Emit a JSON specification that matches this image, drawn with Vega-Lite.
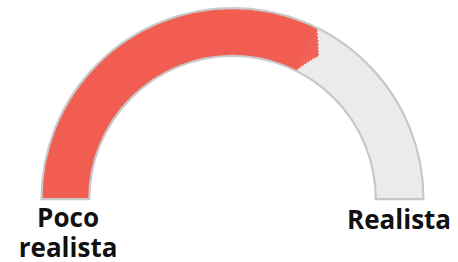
{
  "$schema": "https://vega.github.io/schema/vega-lite/v6.json",
  "width": 458,
  "height": 262,
  "padding": 0,
  "autosize": {"type": "fit", "contains": "padding"},
  "config": {"view": {"stroke": null}},
  "datasets": {
    "gauge": [
      {"part": "track", "f0": 0, "f1": 1, "r0": 0.75, "r1": 1},
      {"part": "value", "f0": 0, "f1": 0.6455, "r0": 0.75, "r1": 1},
      {"part": "tip", "f0": 0.645, "f1": 0.6485, "r0": 0.758, "r1": 0.992},
      {"part": "tip", "f0": 0.6483, "f1": 0.6517, "r0": 0.773, "r1": 0.976},
      {"part": "tip", "f0": 0.6515, "f1": 0.655, "r0": 0.789, "r1": 0.961},
      {"part": "tip", "f0": 0.6548, "f1": 0.6582, "r0": 0.804, "r1": 0.945},
      {"part": "tip", "f0": 0.658, "f1": 0.6615, "r0": 0.820, "r1": 0.929},
      {"part": "tip", "f0": 0.6613, "f1": 0.6647, "r0": 0.835, "r1": 0.913},
      {"part": "tip", "f0": 0.6645, "f1": 0.668, "r0": 0.851, "r1": 0.898},
      {"part": "tip", "f0": 0.6678, "f1": 0.671, "r0": 0.864, "r1": 0.884}
    ],
    "labels": [
      {"label": "Poco\nrealista", "u": -0.861, "v": -0.149},
      {"label": "Realista", "u": 0.872, "v": -0.16}
    ]
  },
  "layer": [
    {
      "data": {"name": "gauge"},
      "transform": [{"filter": "datum.part === 'track'"}],
      "mark": {"type": "arc", "fill": "#ebebeb"},
      "encoding": {
        "x": {"datum": 0, "type": "quantitative", "scale": {"domain": [-1.2173, 1.1806], "nice": false, "zero": false}, "axis": null},
        "y": {"datum": 0, "type": "quantitative", "scale": {"domain": [-0.3168, 1.055], "nice": false, "zero": false}, "axis": null},
        "theta": {"field": "f0", "type": "quantitative", "stack": null, "scale": {"domain": [0, 1], "range": [-1.5708, 1.5708]}},
        "theta2": {"field": "f1"},
        "radius": {"field": "r1", "type": "quantitative", "scale": {"type": "linear", "domain": [0, 1], "range": [0, 191], "zero": true}},
        "radius2": {"field": "r0"}
      }
    },
    {
      "data": {"name": "gauge"},
      "transform": [{"filter": "datum.part !== 'track'"}],
      "mark": {"type": "arc", "fill": "#f25d52", "stroke": "#f25d52", "strokeWidth": 0.3},
      "encoding": {
        "x": {"datum": 0, "type": "quantitative"},
        "y": {"datum": 0, "type": "quantitative"},
        "theta": {"field": "f0", "type": "quantitative", "stack": null},
        "theta2": {"field": "f1"},
        "radius": {"field": "r1", "type": "quantitative"},
        "radius2": {"field": "r0"}
      }
    },
    {
      "data": {"name": "gauge"},
      "transform": [{"filter": "datum.part === 'track'"}],
      "mark": {"type": "arc", "fillOpacity": 0, "stroke": "#c8c8c8", "strokeWidth": 2.2},
      "encoding": {
        "x": {"datum": 0, "type": "quantitative"},
        "y": {"datum": 0, "type": "quantitative"},
        "theta": {"field": "f0", "type": "quantitative", "stack": null},
        "theta2": {"field": "f1"},
        "radius": {"field": "r1", "type": "quantitative"},
        "radius2": {"field": "r0"}
      }
    },
    {
      "data": {"name": "labels"},
      "mark": {"type": "text", "font": "Open Sans", "fontWeight": "bold", "fontSize": 26, "lineBreak": "\n", "lineHeight": 30, "align": "center", "baseline": "alphabetic", "color": "#111111"},
      "encoding": {
        "x": {"field": "u", "type": "quantitative"},
        "y": {"field": "v", "type": "quantitative"},
        "text": {"field": "label", "type": "nominal"}
      }
    }
  ]
}
